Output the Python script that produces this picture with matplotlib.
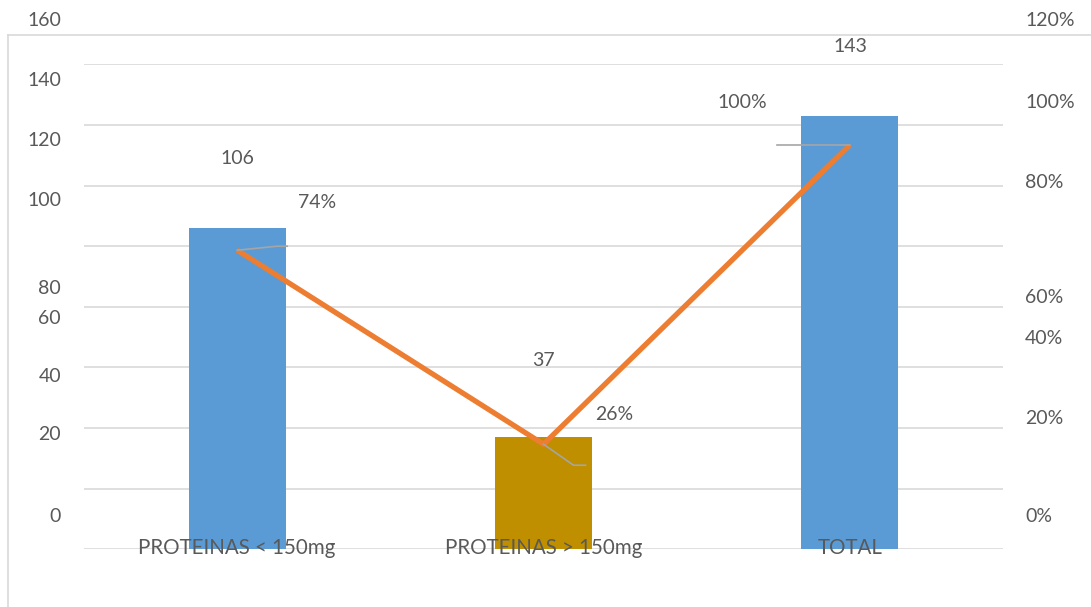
import matplotlib.pyplot as plt
from matplotlib.lines import Line2D

plt.rcParams['font.family'] = ['Lato', 'DejaVu Sans']

# data
categories = ['PROTEINAS < 150mg', 'PROTEINAS > 150mg', 'TOTAL']
counts = [106, 37, 143]
percents = [0.74, 0.26, 1.00]
bar_colors = ['#5B9BD5', '#BF8F00', '#5B9BD5']

left_ticks = [160, 140, 120, 100, 80, 60, 40, 20, 0]
right_ticks = ['120%', '100%', '80%', '60%', '40%', '20%', '0%']

W, H = 1091, 607
text_col = '#595959'
grid_col = '#D9D9D9'

fig = plt.figure(figsize=(W / 100, H / 100), dpi=100)


def fx(px):
    return px / W


def fy(py):
    return 1 - py / H


# outer frame (only left and top edges visible)
fig.add_artist(Line2D([fx(8), fx(8)], [fy(35), 0], color=grid_col, lw=1.2))
fig.add_artist(Line2D([fx(8), 1], [fy(35), fy(35)], color=grid_col, lw=1.2))

ax = fig.add_axes([fx(84), fy(549.3), fx(1003) - fx(84), (549.3 - 64.3) / H])
ax.set_ylim(0, 160)
ax.set_xlim(-0.5, 2.5)
ax.set_yticks(range(0, 161, 20))
ax.yaxis.grid(True, color=grid_col, lw=1.2)
ax.set_axisbelow(True)
for s in ax.spines.values():
    s.set_visible(False)

x = range(len(categories))
ax.bar(x, counts, width=0.317, color=bar_colors, zorder=2)

ax2 = ax.twinx()
ax2.set_ylim(0, 1.2)
ax2.set_axis_off()
ax2.plot(x, percents, color='#ED7D31', lw=3.8, zorder=3, solid_capstyle='butt')
ax.tick_params(left=False, right=False, bottom=False, labelleft=False, labelbottom=False)

# axis labels sit away from the gridlines, as in the source rendering
left_label_y = [20, 81, 141, 201, 288, 319, 376, 435, 516]
for v, py in zip(left_ticks, left_label_y):
    fig.text(fx(61), fy(py), str(v), ha='right', va='center', fontsize=14, color=text_col)

right_label_y = [21, 102, 182, 297, 338, 419, 517]
for t, py in zip(right_ticks, right_label_y):
    fig.text(fx(1025), fy(py), t, ha='left', va='center', fontsize=14, color=text_col)

for i, c in enumerate(categories):
    ax.annotate(c, xy=(i, 0), xytext=(0, 1), textcoords='offset pixels',
                ha='center', va='center', fontsize=14.8, color=text_col, zorder=5)

# data labels (displaced) with grey leader lines
count_label_pos = [(237, 158), (543, 361), (850, 47)]
pct_label_pos = [(317, 202), (614, 415), (742, 102)]
leader_offsets = [[(0, 0), (40, 4), (50, 4)],
                  [(0, 0), (30, -21), (42, -21)],
                  [(0, 0), (-73, 0)]]

for i in x:
    fig.text(fx(count_label_pos[i][0]), fy(count_label_pos[i][1]), str(counts[i]),
             ha='center', va='center', fontsize=14, color=text_col)
    fig.text(fx(pct_label_pos[i][0]), fy(pct_label_pos[i][1]), f'{percents[i]:.0%}',
             ha='center', va='center', fontsize=14, color=text_col)
    px, py = ax2.transData.transform((i, percents[i]))
    xs = [(px + dx) / W for dx, dy in leader_offsets[i]]
    ys = [(py + dy) / H for dx, dy in leader_offsets[i]]
    fig.add_artist(Line2D(xs, ys, color='#A5A5A5', lw=1.2, zorder=4))

fig.savefig('out.png', dpi=100)
